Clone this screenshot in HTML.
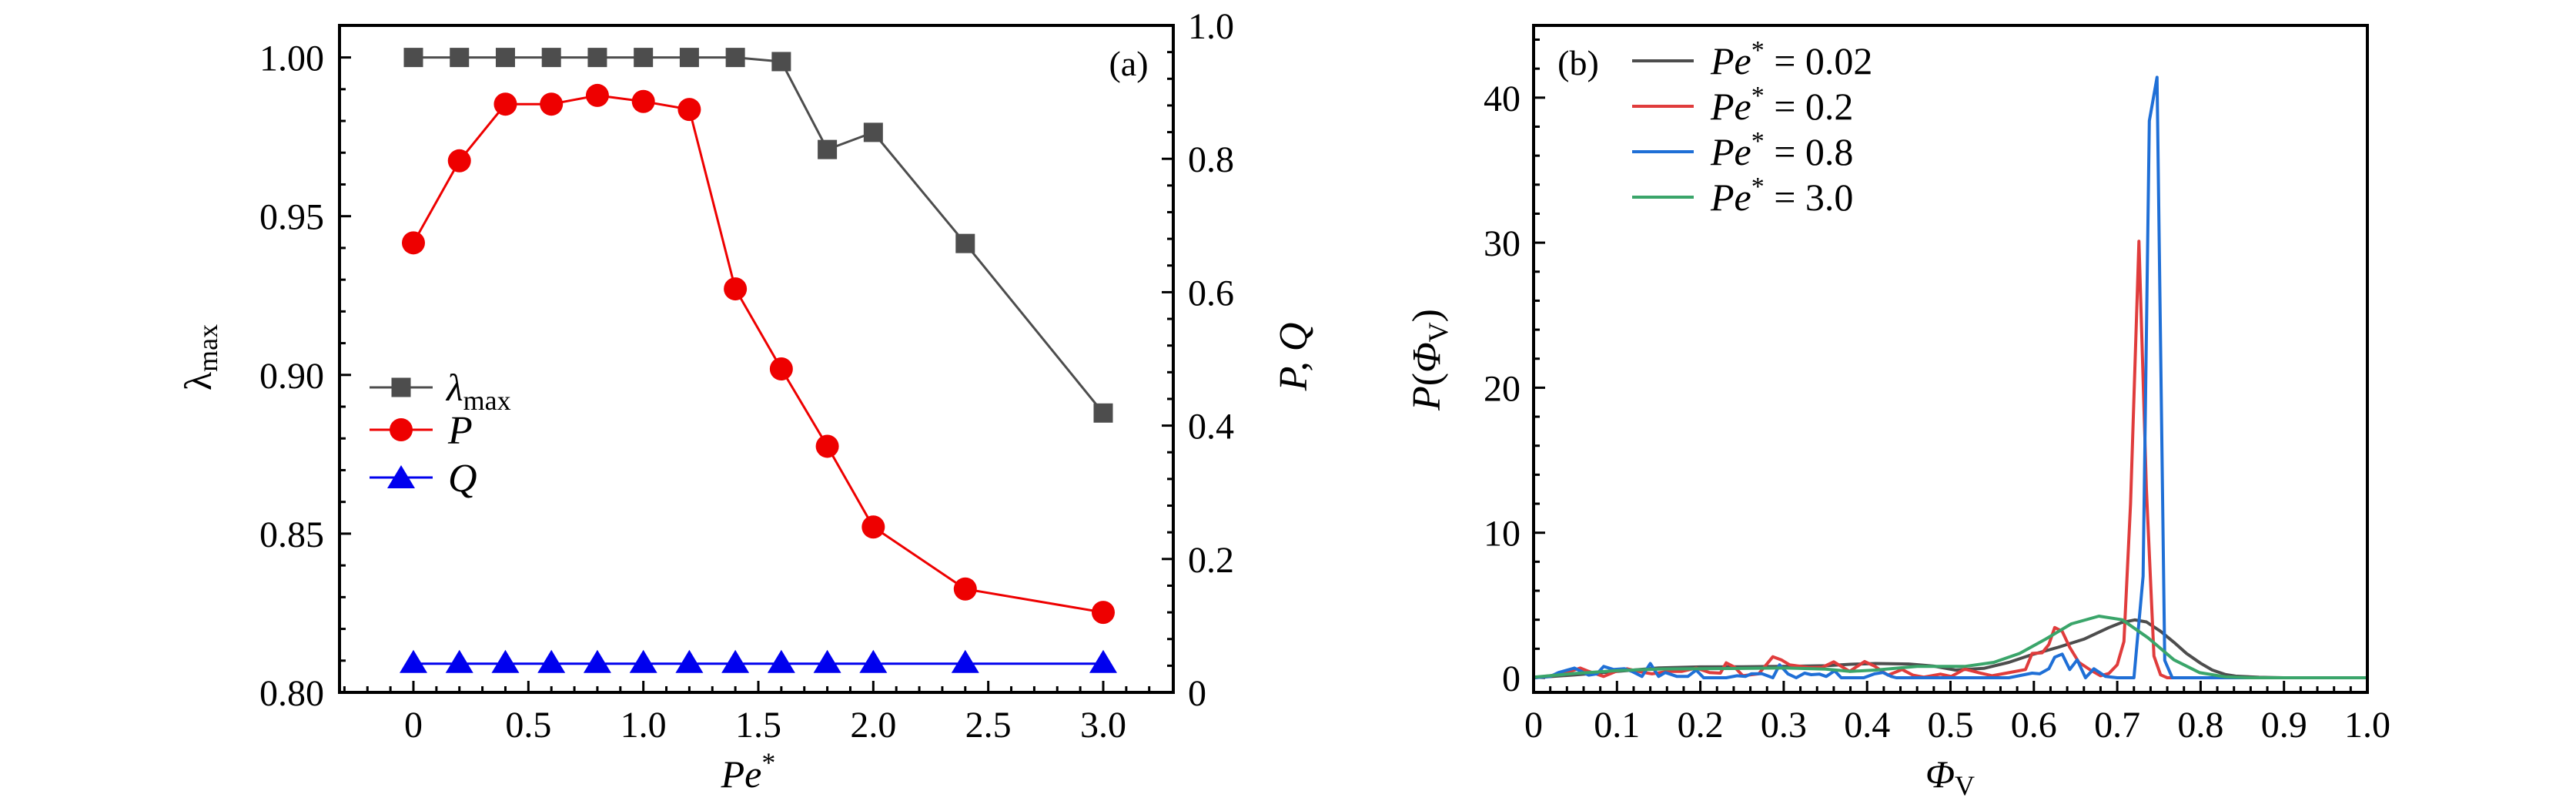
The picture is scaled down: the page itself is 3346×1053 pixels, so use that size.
<!DOCTYPE html>
<html><head><meta charset="utf-8"><style>
html,body{margin:0;padding:0;background:#fff;}
svg{display:block;font-family:"Liberation Serif",serif;}
</style></head><body>
<svg id="fig" width="3346" height="1053" viewBox="0 0 3346 1053" xmlns="http://www.w3.org/2000/svg">
<rect width="3346" height="1053" fill="#fff"/>
<g id="pa"></g>
<g id="pb"></g>
</svg>
<script>
// ---- Panel (a) data ----
const peLambda = [0,0.2,0.4,0.6,0.8,1.0,1.2,1.4,1.6,1.8,2.0,2.4,3.0];
const lambdaMax = [1.0,1.0,1.0,1.0,1.0,1.0,1.0,1.0,0.9987,0.971,0.9764,0.9414,0.888];
const peP = [0,0.2,0.4,0.6,0.8,1.0,1.2,1.4,1.6,1.8,2.0,2.4,3.0];
const pValues = [0.674,0.797,0.882,0.882,0.895,0.886,0.874,0.605,0.485,0.369,0.248,0.155,0.120];
const peQ = [0,0.2,0.4,0.6,0.8,1.0,1.2,1.4,1.6,1.8,2.0,2.4,3.0];
const qValues = [0.043,0.043,0.043,0.043,0.043,0.043,0.043,0.043,0.043,0.043,0.043,0.043,0.043];
const xTicksA = ["0","0.5","1.0","1.5","2.0","2.5","3.0"];
const xTickValsA = [0,0.5,1.0,1.5,2.0,2.5,3.0];
const yLeftTickLabels = ["0.80","0.85","0.90","0.95","1.00"];
const yLeftTickVals = [0.80,0.85,0.90,0.95,1.00];
const yRightTickLabels = ["0","0.2","0.4","0.6","0.8","1.0"];
const yRightTickVals = [0,0.2,0.4,0.6,0.8,1.0];

// ---- Panel (b) data ----
const phiGray = [0,0.05,0.1,0.15,0.2,0.25,0.3,0.35,0.38,0.41,0.45,0.48,0.506,0.54,0.57,0.598,0.629,0.66,0.69,0.705,0.721,0.735,0.752,0.768,0.783,0.8,0.814,0.83,0.842,0.87,0.9,1.0];
const pGray = [0,0.2,0.44,0.68,0.75,0.76,0.78,0.83,0.93,0.98,0.95,0.8,0.53,0.65,1.06,1.6,2.1,2.66,3.46,3.8,3.99,3.85,3.2,2.45,1.68,1.0,0.53,0.22,0.11,0.03,0.0,0.0];
const phiRed = [0,0.02,0.04,0.056,0.066,0.084,0.099,0.112,0.132,0.142,0.162,0.178,0.195,0.211,0.224,0.231,0.241,0.251,0.27,0.287,0.297,0.307,0.33,0.346,0.36,0.379,0.397,0.409,0.425,0.442,0.455,0.468,0.488,0.501,0.517,0.534,0.55,0.57,0.59,0.598,0.61,0.618,0.625,0.634,0.643,0.654,0.668,0.68,0.69,0.7,0.708,0.716,0.726,0.735,0.744,0.752,0.76,1.0];
const pRed = [0,0.14,0.36,0.67,0.44,0.09,0.44,0.62,0.36,0.27,0.44,0.44,0.67,0.36,0.32,1.03,0.74,0.14,0.27,1.45,1.24,0.89,0.71,0.71,1.1,0.44,1.12,0.8,0.18,0.57,0.18,0.04,0.25,0.09,0.6,0.35,0.14,0.35,0.57,1.68,1.72,2.3,3.46,3.2,2.1,1.06,0.53,0.14,0.3,0.9,2.5,12,30.1,13,1.5,0.2,0,0];
const phiBlue = [0,0.02,0.03,0.049,0.066,0.076,0.084,0.096,0.109,0.119,0.13,0.14,0.15,0.158,0.172,0.185,0.195,0.204,0.231,0.244,0.254,0.261,0.274,0.287,0.295,0.305,0.315,0.325,0.333,0.343,0.351,0.361,0.369,0.396,0.409,0.419,0.429,0.435,0.57,0.598,0.607,0.618,0.625,0.634,0.643,0.652,0.662,0.672,0.686,0.7,0.72,0.731,0.7385,0.7477,0.757,0.766,1.0];
const pBlue = [0,0.09,0.36,0.67,0.18,0.27,0.78,0.57,0.62,0.41,0.09,0.98,0.09,0.36,0.09,0.09,0.53,0,0,0.14,0.09,0.27,0.28,0,0.89,0.27,0,0.32,0.21,0.25,0.09,0.48,0,0,0.27,0.36,0.09,0,0,0.32,0.27,0.62,1.42,1.63,0.57,1.24,0,0.62,0.09,0,0,7,38.4,41.4,1.2,0,0];
const phiGreen = [0,0.05,0.1,0.15,0.2,0.25,0.3,0.35,0.38,0.41,0.46,0.5,0.517,0.552,0.583,0.614,0.645,0.678,0.706,0.737,0.768,0.799,0.83,0.86,1.0];
const pGreen = [0.04,0.3,0.49,0.6,0.62,0.64,0.68,0.6,0.44,0.53,0.78,0.78,0.78,1.06,1.68,2.66,3.72,4.25,4.0,2.75,1.24,0.35,0.06,0.0,0.0];
const xTicksB = ["0","0.1","0.2","0.3","0.4","0.5","0.6","0.7","0.8","0.9","1.0"];
const xTickValsB = [0,0.1,0.2,0.3,0.4,0.5,0.6,0.7,0.8,0.9,1.0];
const yTicksB = ["0","10","20","30","40"];
const yTickValsB = [0,10,20,30,40];
const legendB = ["0.02","0.2","0.8","3.0"];

const NS = "http://www.w3.org/2000/svg";
function mk(tag, attrs, parent){
  const e = document.createElementNS(NS, tag);
  for (const k in attrs) e.setAttribute(k, attrs[k]);
  parent.appendChild(e);
  return e;
}

// ===== Panel A =====
const pa = document.getElementById('pa');
const A = {l:441, r:1524, t:33, b:899};
const axX = v => 537 + (v - 0) * (1433 - 537) / 3.0;
const axYL = v => A.b - (v - 0.80) * (A.b - 74.6) / 0.20;
const axYR = v => A.b - v * (A.b - A.t) / 1.0;

// ticks
for (let v = -0.3; v <= 3.3001; v += 0.1) {
  const vv = Math.round(v*10)/10;
  const major = Math.abs(vv*2 - Math.round(vv*2)) < 1e-6;
  const len = major ? 15 : 8;
  const x = axX(vv);
  if (x < A.l+2 || x > A.r-2) continue;
  const t = mk('line',{x1:x,x2:x,y1:A.b,y2:A.b-len,stroke:'#000','stroke-width':3},pa);
  
  
}
for (let i = 0; i <= 21; i++) {
  const v = 0.80 + i*0.01;
  const y = axYL(v);
  if (y < A.t+2) continue;
  const major = i % 5 === 0;
  const t = mk('line',{x1:A.l,x2:A.l+(major?15:8),y1:y,y2:y,stroke:'#000','stroke-width':3},pa);
  
  
}
for (let i = 1; i < 25; i++) {
  const v = i*0.04;
  const y = axYR(v);
  const major = i % 5 === 0;
  const t = mk('line',{x1:A.r,x2:A.r-(major?15:8),y1:y,y2:y,stroke:'#000','stroke-width':3},pa);
  
  
}
// tick labels
xTicksA.forEach((s,i)=>{
  const t = mk('text',{x:axX(xTickValsA[i]),y:957,'font-size':48,'text-anchor':'middle'},pa);
  t.textContent = s;
  
  
});
yLeftTickLabels.forEach((s,i)=>{
  const t = mk('text',{x:421,y:axYL(yLeftTickVals[i])+17,'font-size':48,'text-anchor':'end'},pa);
  t.textContent = s;
  
  
});
yRightTickLabels.forEach((s,i)=>{
  const t = mk('text',{x:1543,y:axYR(yRightTickVals[i])+17,'font-size':48,'text-anchor':'start'},pa);
  t.textContent = s;
  
  
});

function polyline(xs, ys, fx, fy, color, w, parent, name){
  const pts = xs.map((x,i)=> fx(x).toFixed(1)+','+fy(ys[i]).toFixed(1)).join(' ');
  const p = mk('polyline',{points:pts,fill:'none',stroke:color,'stroke-width':w,'stroke-linejoin':'round'},parent);
  
  
  return p;
}
// series lines
polyline(peQ,qValues,axX,axYR,'#0000ee',3,pa,'q-line');
polyline(peLambda,lambdaMax,axX,axYL,'#4d4d4d',3,pa,'lambda-max-line');
polyline(peP,pValues,axX,axYR,'#ee0000',3,pa,'p-line');
function square(x,y,parent){
  const s = mk('rect',{x:x-12.5,y:y-12.5,width:25,height:25,fill:'#4d4d4d'},parent);
  
  
}
function circle(x,y,parent){
  const c = mk('circle',{cx:x,cy:y,r:15,fill:'#ee0000'},parent);
  
  
}
function tri(x,y,parent){
  const t = mk('polygon',{points:`${x-18},${y+12} ${x+18},${y+12} ${x},${y-18}`,fill:'#0000ee'},parent);
  
  
}
peQ.forEach((x,i)=>tri(axX(x),axYR(qValues[i]),pa));
peLambda.forEach((x,i)=>square(axX(x),axYL(lambdaMax[i]),pa));
peP.forEach((x,i)=>circle(axX(x),axYR(pValues[i]),pa));

// frame
const fa = mk('rect',{x:A.l,y:A.t,width:A.r-A.l,height:A.b-A.t,fill:'none',stroke:'#000','stroke-width':4},pa);



// legend a
const lg = mk('g',{},pa);


[[503,'#4d4d4d','sq'],[558,'#ee0000','ci'],[620,'#0000ee','tr']].forEach((r,i)=>{
  const l = mk('line',{x1:480,x2:562,y1:r[0],y2:r[0],stroke:r[1],'stroke-width':3},lg);
  
  
  if (r[2]==='sq') square(521,r[0],lg); else if (r[2]==='ci') circle(521,r[0],lg); else tri(521,r[0]+2,lg);
});
</script>
<script>
// static text for panel a and b (kept as real text)
(function(){
  const pa = document.getElementById('pa');
  const pb = document.getElementById('pb');
  pa.insertAdjacentHTML('beforeend',
  `<text x="580" y="520" font-size="50"><tspan font-style="italic">λ</tspan><tspan font-size="36" dy="12">max</tspan></text>
   <text x="582" y="576" font-size="52" font-style="italic">P</text>
   <text x="582" y="638" font-size="52" font-style="italic">Q</text>
   <text x="1466" y="98" font-size="46" text-anchor="middle">(a)</text>
   <text x="972" y="1022" font-size="50" text-anchor="middle"><tspan font-style="italic">Pe</tspan><tspan font-size="36" dy="-20">*</tspan></text>
   <text transform="translate(274,464) rotate(-90)" font-size="50" text-anchor="middle"><tspan>λ</tspan><tspan font-size="36" dy="8">max</tspan></text>
   <text transform="translate(1697,463) rotate(-90)" font-size="52" text-anchor="middle" font-style="italic">P, Q</text>`);
  pb.insertAdjacentHTML('beforeend',
  `<text x="2050" y="97" font-size="46" text-anchor="middle">(b)</text>
   <text x="2533" y="1022" font-size="50" text-anchor="middle"><tspan font-style="italic">Φ</tspan><tspan font-size="36" dy="10">V</tspan></text>
   <text transform="translate(1870,467) rotate(-90)" font-size="52" text-anchor="middle"><tspan font-style="italic">P</tspan>(<tspan font-style="italic">Φ</tspan><tspan font-size="36" dy="10">V</tspan><tspan dy="-10">)</tspan></text>`);
})();
</script>
<script>
// ===== Panel B =====
(function(){
const NS = "http://www.w3.org/2000/svg";
function mk(tag, attrs, parent){
  const e = document.createElementNS(NS, tag);
  for (const k in attrs) e.setAttribute(k, attrs[k]);
  parent.appendChild(e);
  return e;
}
const pb = document.getElementById('pb');
const B = {l:1992, r:3075, t:33, b:899};
const bx = v => B.l + v * (B.r - B.l);
const by = v => 880 - v * 18.83;

for (let i = 1; i < 50; i++) {
  const v = i*0.02;
  const x = bx(v);
  const major = i % 5 === 0;
  const t = mk('line',{x1:x,x2:x,y1:B.b,y2:B.b-(major?15:8),stroke:'#000','stroke-width':3},pb);
  
  
}
for (let v = 0; v <= 44; v += 2) {
  const y = by(v);
  const major = v % 10 === 0;
  const t = mk('line',{x1:B.l,x2:B.l+(major?15:8),y1:y,y2:y,stroke:'#000','stroke-width':3},pb);
  
  
}
xTicksB.forEach((s,i)=>{
  const t = mk('text',{x:bx(xTickValsB[i]),y:957,'font-size':48,'text-anchor':'middle'},pb);
  t.textContent = s;
  
  
});
yTicksB.forEach((s,i)=>{
  const t = mk('text',{x:1975,y:by(yTickValsB[i])+17,'font-size':48,'text-anchor':'end'},pb);
  t.textContent = s;
  
  
});
function line(xs, ys, color, name){
  const pts = xs.map((x,i)=> bx(x).toFixed(1)+','+by(ys[i]).toFixed(1)).join(' ');
  const p = mk('polyline',{points:pts,fill:'none',stroke:color,'stroke-width':4,'stroke-linejoin':'round'},pb);
  
  
}
const colors = ['#4d4d4d','#e03c3c','#1f6fd6','#3aa56a'];
line(phiGray,pGray,colors[0],'series-pe-0.02');
line(phiRed,pRed,colors[1],'series-pe-0.2');
line(phiBlue,pBlue,colors[2],'series-pe-0.8');
line(phiGreen,pGreen,colors[3],'series-pe-3.0');

const f = mk('rect',{x:B.l,y:B.t,width:B.r-B.l,height:B.b-B.t,fill:'none',stroke:'#000','stroke-width':4},pb);



const lg = mk('g',{},pb);


legendB.forEach((s,i)=>{
  const y = 79 + i*59;
  const l = mk('line',{x1:2120,x2:2200,y1:y,y2:y,stroke:colors[i],'stroke-width':4},lg);
  
  
  const t = mk('text',{x:2222,y:y+17,'font-size':50},lg);
  
  
  const a = mk('tspan',{'font-style':'italic'},t); a.textContent = 'Pe';
  const b = mk('tspan',{'font-size':34,dy:-20},t); b.textContent = '*';
  const c = mk('tspan',{dy:20},t); c.textContent = ' = ' + s;
});
})();
</script>
</body></html>
